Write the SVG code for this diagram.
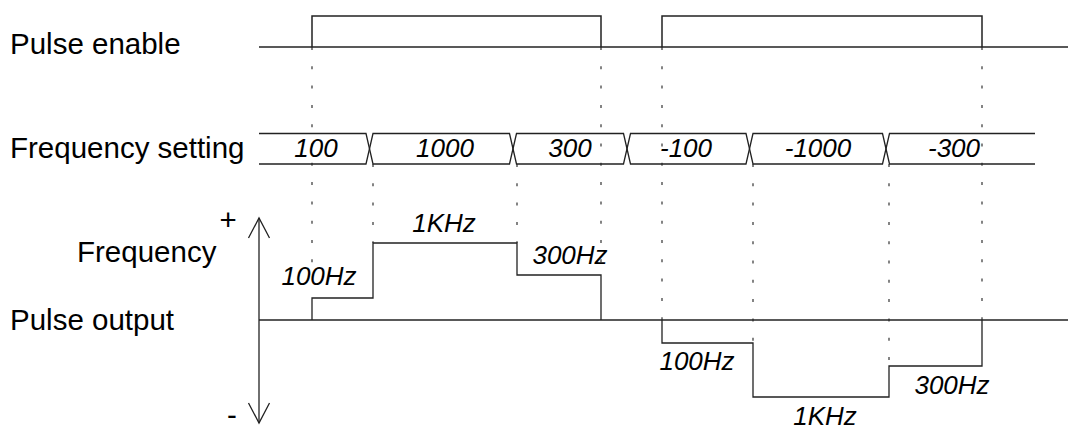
<svg xmlns="http://www.w3.org/2000/svg" width="1068" height="431" viewBox="0 0 1068 431">
<style>
.lbl{font-family:"Liberation Sans",Arial,sans-serif;font-size:29.5px;fill:#000}
.it{font-family:"Liberation Sans",Arial,sans-serif;font-size:26px;font-style:italic;fill:#000;text-anchor:middle}
.sig{fill:none;stroke:#222;stroke-width:1.5}
.lvl{fill:none;stroke:#222;stroke-width:1.3}
.dot{fill:none;stroke:#333;stroke-width:1.2;stroke-dasharray:3 16.3}
</style>
<rect width="1068" height="431" fill="#fff"/>
<g id="labels">
<text class="lbl" x="10" y="54">Pulse enable</text>
<text class="lbl" x="10" y="158">Frequency setting</text>
<text class="lbl" x="77" y="262">Frequency</text>
<text class="lbl" x="10" y="330">Pulse output</text>
<text class="lbl" x="228" y="230" text-anchor="middle">+</text>
<text class="lbl" x="232" y="425" text-anchor="middle">-</text>
</g>
<g id="connectors">
<line class="dot" x1="312" y1="47" x2="312" y2="263"/>
<line class="dot" x1="601" y1="47" x2="601" y2="275"/>
<line class="dot" x1="662" y1="47" x2="662" y2="320"/>
<line class="dot" x1="982" y1="47" x2="982" y2="320"/>
<line class="dot" x1="373" y1="164" x2="373" y2="243"/>
<line class="dot" x1="517" y1="164" x2="517" y2="243"/>
<line class="dot" x1="753" y1="164" x2="753" y2="343"/>
<line class="dot" x1="889" y1="164" x2="889" y2="366"/>
</g>
<g id="pulse-enable">
<line class="sig" x1="259" y1="47" x2="1068" y2="47"/>
<path class="sig" d="M312,47 V16 H601 V47"/>
<path class="sig" d="M662,47 V16 H982 V47"/>
</g>
<g id="frequency-setting">
<path class="lvl" d="M259,133.5 H366 L373,164 H509.5 L516.5,133.5 H623.5 L630.5,164 H746 L753,133.5 H882.5 L889.5,164 H1035"/>
<path class="lvl" d="M259,164 H366 L373,133.5 H509.5 L516.5,164 H623.5 L630.5,133.5 H746 L753,164 H882.5 L889.5,133.5 H1035"/>
<text class="it" x="316" y="157">100</text>
<text class="it" x="445" y="157">1000</text>
<text class="it" x="570" y="157">300</text>
<text class="it" x="686" y="157">-100</text>
<text class="it" x="818" y="157">-1000</text>
<text class="it" x="954" y="157">-300</text>
</g>
<g id="axis">
<line class="lvl" x1="259" y1="218" x2="259" y2="423"/>
<polyline class="lvl" points="248.5,238 259,218 269.5,238"/>
<polyline class="lvl" points="248.5,403 259,423 269.5,403"/>
</g>
<g id="pulse-output">
<line class="lvl" x1="259" y1="320" x2="1068" y2="320"/>
<path class="lvl" d="M312,320 V298 H373 V243 H517 V275 H601 V320"/>
<path class="lvl" d="M662,320 V343 H753 V397 H889 V366 H982 V320"/>
<text class="it" x="319" y="285">100Hz</text>
<text class="it" x="444" y="232">1KHz</text>
<text class="it" x="570" y="264">300Hz</text>
<text class="it" x="697" y="370">100Hz</text>
<text class="it" x="825" y="425">1KHz</text>
<text class="it" x="952" y="394">300Hz</text>
</g>
</svg>
